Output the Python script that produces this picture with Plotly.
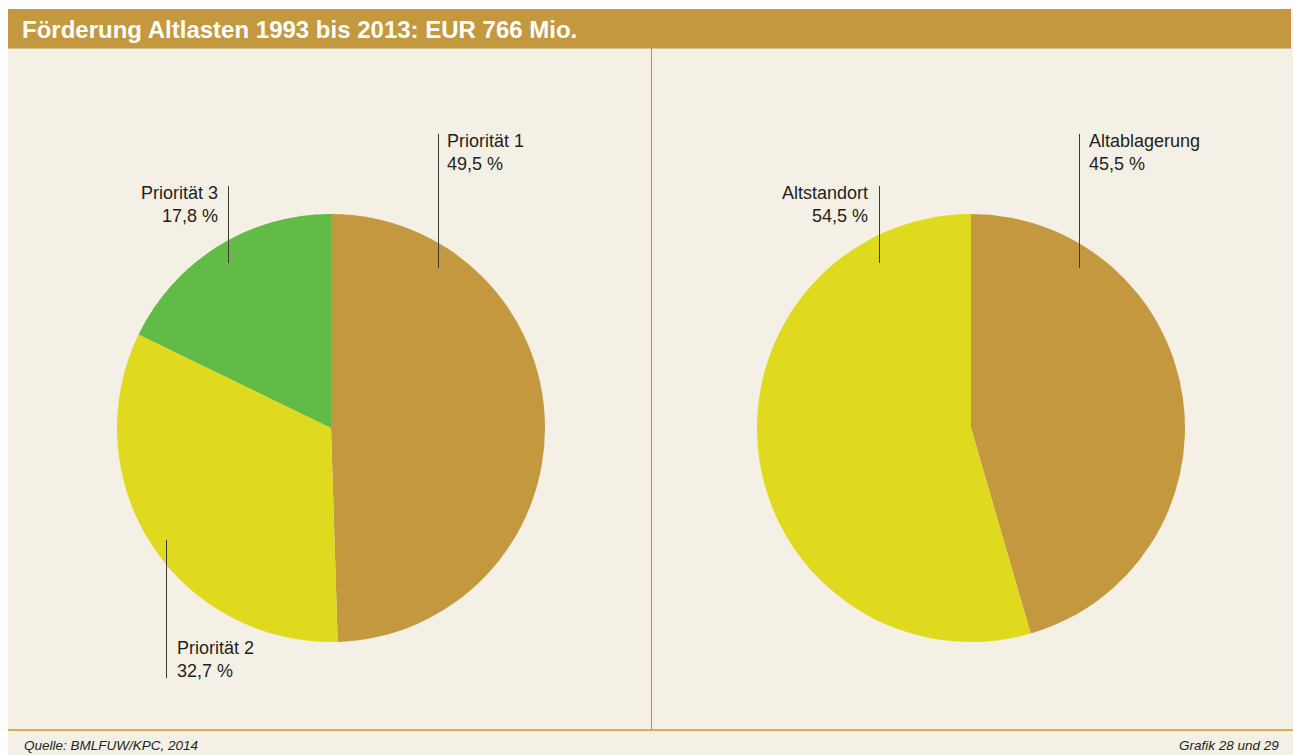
import plotly.graph_objects as go

W, H = 1293, 755

title = "Förderung Altlasten 1993 bis 2013: EUR 766 Mio."
source = "Quelle: BMLFUW/KPC, 2014"
grafik = "Grafik 28 und 29"

left_labels = ["Priorität 1", "Priorität 2", "Priorität 3"]
left_values = [49.5, 32.7, 17.8]
left_colors = ["#C4983E", "#DFDA1D", "#62BB47"]

right_labels = ["Altablagerung", "Altstandort"]
right_values = [45.5, 54.5]
right_colors = ["#C4983E", "#DFDA1D"]

BG = "#F5F0E5"
BAR = "#C4983E"
TXT = "#231F20"
FONT = "Liberation Sans, Arial, sans-serif"


def px(x):
    return x / W


def py(y):
    return 1 - y / H


def fmt(v):
    return f"{v:.1f}".replace(".", ",") + " %"


def pie_domain(cx, cy, r):
    return dict(x=[px(cx - r), px(cx + r)], y=[py(cy + r), py(cy - r)])


fig = go.Figure()
fig.add_trace(go.Pie(
    labels=left_labels, values=left_values, sort=False, direction="clockwise",
    rotation=0, textinfo="none", marker=dict(colors=left_colors, line=dict(width=0)),
    domain=pie_domain(331, 428, 214), showlegend=False,
))
fig.add_trace(go.Pie(
    labels=right_labels, values=right_values, sort=False, direction="clockwise",
    rotation=0, textinfo="none", marker=dict(colors=right_colors, line=dict(width=0)),
    domain=pie_domain(971, 428, 214), showlegend=False,
))

shapes = [
    # cream panel
    dict(type="rect", xref="paper", yref="paper", x0=px(8), x1=px(W), y0=py(H), y1=py(9),
         fillcolor=BG, line=dict(width=0), layer="below"),
    # title bar
    dict(type="rect", xref="paper", yref="paper", x0=px(8), x1=px(1291), y0=py(48.5), y1=py(9),
         fillcolor=BAR, line=dict(width=0), layer="below"),
    # divider
    dict(type="line", xref="paper", yref="paper", x0=px(651.5), x1=px(651.5), y0=py(48), y1=py(730),
         line=dict(color="#B8903F", width=1)),
    # bottom rule
    dict(type="line", xref="paper", yref="paper", x0=px(8), x1=px(W), y0=py(730), y1=py(730),
         line=dict(color="#D4952E", width=1.5)),
]

# leader lines (x, y_top, y_bottom)
leaders = [(438.5, 134, 268), (228.5, 186, 263), (166.5, 540, 678), (1079.5, 134, 268), (879.5, 186, 263)]
for lx, y0, y1 in leaders:
    shapes.append(dict(type="line", xref="paper", yref="paper", x0=px(lx), x1=px(lx),
                       y0=py(y0), y1=py(y1), line=dict(color="#3A3A3A", width=1)))

annotations = [
    dict(text=f"<b>{title}</b>", x=px(20), y=py(29), xanchor="left", yanchor="middle",
         font=dict(family=FONT, size=24, color="white")),
    dict(text=f"<i>{source}</i>", x=px(22), y=py(745), xanchor="left", yanchor="middle",
         font=dict(family=FONT, size=13.5, color=TXT)),
    dict(text=f"<i>{grafik}</i>", x=px(1281), y=py(745), xanchor="right", yanchor="middle",
         font=dict(family=FONT, size=13.5, color=TXT)),
]

label_pos = [
    (left_labels[0], left_values[0], 445, 141, "left"),
    (left_labels[1], left_values[1], 175, 648, "left"),
    (left_labels[2], left_values[2], 220, 193, "right"),
    (right_labels[0], right_values[0], 1087, 141, "left"),
    (right_labels[1], right_values[1], 870, 193, "right"),
]
for lab, val, x, y, anc in label_pos:
    annotations.append(dict(
        text=f"{lab}<br>{fmt(val)}", x=px(x), y=py(y - 12), xanchor=anc, yanchor="top",
        align=anc, showarrow=False,
        font=dict(family=FONT, size=18, color=TXT),
    ))

for a in annotations:
    a.setdefault("showarrow", False)
    a["xref"] = "paper"
    a["yref"] = "paper"

fig.update_layout(
    width=W, height=H, margin=dict(l=0, r=0, t=0, b=0),
    paper_bgcolor="white", plot_bgcolor="white",
    shapes=shapes, annotations=annotations, showlegend=False,
)

fig.write_html(
    "out.html",
    config={"displayModeBar": False},
    post_script="document.body.style.margin='0';document.body.style.overflow='hidden';",
)
